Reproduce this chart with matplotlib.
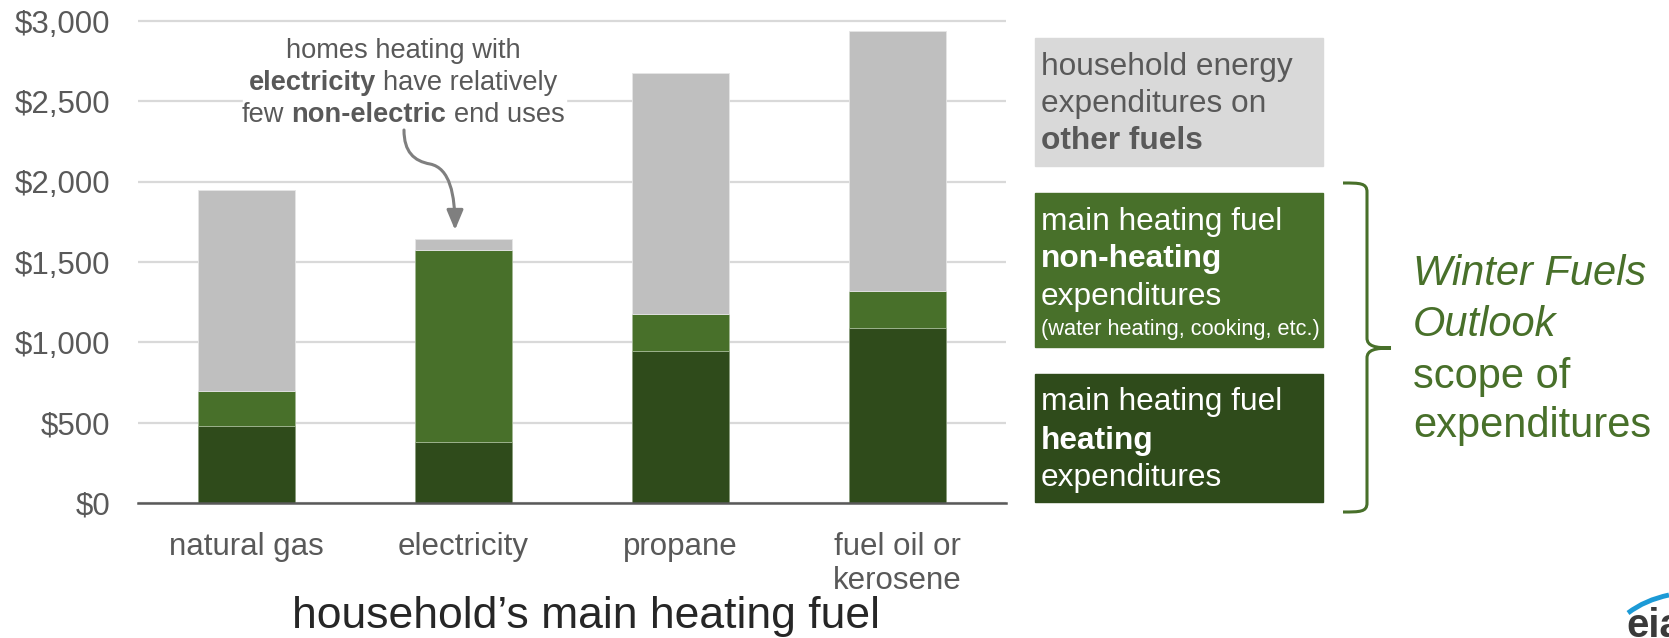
import matplotlib
matplotlib.use("Agg")
import matplotlib.pyplot as plt
from matplotlib.patches import Rectangle, FancyArrowPatch, PathPatch
from matplotlib.path import Path
import numpy as np

plt.rcParams['font.family'] = ['Liberation Sans', 'DejaVu Sans']

# household expenditures by main heating fuel, dollars
fuels = ["natural gas", "electricity", "propane", "fuel oil or\nkerosene"]
heating = [478, 378, 947, 1088]
non_heating = [219, 1194, 232, 234]
other_fuels = [1251, 71, 1496, 1618]

y_ticks = [0, 500, 1000, 1500, 2000, 2500, 3000]
y_labels = ["$0", "$500", "$1,000", "$1,500", "$2,000", "$2,500", "$3,000"]

dark_green = "#2f4b1b"
mid_green = "#48702a"
bar_gray = "#bfbfbf"
box_gray = "#d9d9d9"
txt_gray = "#595959"

W, H = 1669, 638
fig = plt.figure(figsize=(W / 100, H / 100), dpi=100)
renderer = fig.canvas.get_renderer()


def fx(px):
    return px / W


def fy(py):
    return 1 - py / H


ax = fig.add_axes([fx(138), fy(503), (1006 - 138) / W, (503 - 19.4) / H])

x = np.arange(len(fuels))
bw = 0.447
h = np.array(heating)
nh = np.array(non_heating)
ax.bar(x, h, bw, color=dark_green, edgecolor="#8a9c7c", lw=0.6, zorder=2)
ax.bar(x, nh, bw, bottom=h, color=mid_green, edgecolor="#a3b894", lw=0.6, zorder=2)
ax.bar(x, other_fuels, bw, bottom=h + nh, color=bar_gray, edgecolor="#e6e6e6", lw=0.6, zorder=2)

ax.set_xlim(-0.5, 3.5)
ax.set_ylim(0, 3010)
ax.set_yticks(y_ticks, y_labels)
ax.set_xticks(x, fuels)
ax.yaxis.grid(True, color="#d9d9d9", lw=1.6)
ax.set_axisbelow(True)
for s in ["left", "right", "top"]:
    ax.spines[s].set_visible(False)
ax.spines["bottom"].set_color(txt_gray)
ax.spines["bottom"].set_linewidth(1.8)
ax.spines["bottom"].set_zorder(3)
ax.tick_params(length=0, labelsize=22.5, labelcolor=txt_gray)
ax.tick_params(axis="y", pad=20)
ax.tick_params(axis="x", pad=21)
for lbl in ax.get_xticklabels():
    lbl.set_linespacing(1.18)

fig.text(fx(586), fy(628), "household\u2019s main heating fuel", fontsize=32,
         color="#262626", ha="center", va="baseline")


def text_width(s, size, weight="normal", style="normal"):
    t = fig.text(0, 0, s, fontsize=size, fontweight=weight, fontstyle=style)
    w = t.get_window_extent(renderer).width
    t.remove()
    return w


def rich_line(xp, yp, parts, size, color, center=False):
    # parts: (text, bold) pieces separated by a single space
    space = text_width("a a", size) - text_width("aa", size)
    widths = [text_width(s, size, "bold" if b else "normal") for s, b in parts]
    total = sum(widths) + space * (len(parts) - 1)
    x0 = xp - total / 2 if center else xp
    for (s, b), w in zip(parts, widths):
        fig.text(fx(x0), fy(yp), s, fontsize=size, color=color,
                 fontweight="bold" if b else "normal", ha="left", va="baseline")
        x0 += w + space


# note on the electricity bar
fig.add_artist(Rectangle((fx(243), fy(128)), (566 - 243) / W, (128 - 32) / H,
                         transform=fig.transFigure, color="white", zorder=1))
note = [
    [("homes heating with", False)],
    [("electricity", True), ("have relatively", False)],
    [("few", False), ("non-electric", True), ("end uses", False)],
]
for line, yb in zip(note, [58, 90, 122]):
    rich_line(403, yb, line, 19.6, txt_gray, center=True)

arrow_path = Path(
    [(fx(404), fy(130)), (fx(404), fy(152)), (fx(414), fy(161)), (fx(430), fy(164)),
     (fx(450), fy(168)), (fx(455), fy(195)), (fx(455), fy(230))],
    [Path.MOVETO, Path.CURVE4, Path.CURVE4, Path.CURVE4,
     Path.CURVE4, Path.CURVE4, Path.CURVE4])
fig.add_artist(FancyArrowPatch(path=arrow_path, transform=fig.transFigure,
                               arrowstyle="-|>,head_length=12,head_width=5",
                               color="#7f7f7f", lw=2.2, mutation_scale=1))

# legend boxes
boxes = [
    (38, 166, box_gray, txt_gray, [
        (75, [("household energy", False)], 22.8),
        (112, [("expenditures on", False)], 22.8),
        (149, [("other fuels", True)], 22.8)]),
    (193, 347, mid_green, "white", [
        (230, [("main heating fuel", False)], 22.8),
        (267, [("non-heating", True)], 22.8),
        (305, [("expenditures", False)], 22.8),
        (335, [("(water heating, cooking, etc.)", False)], 15.7)]),
    (374, 502, dark_green, "white", [
        (410, [("main heating fuel", False)], 22.8),
        (449, [("heating", True)], 22.8),
        (486, [("expenditures", False)], 22.8)]),
]
for top, bottom, fc, tc, lines in boxes:
    fig.add_artist(Rectangle((fx(1035), fy(bottom)), (1323 - 1035) / W, (bottom - top) / H,
                             transform=fig.transFigure, color=fc, zorder=1))
    for yb, parts, size in lines:
        rich_line(1041, yb, parts, size, tc)

# brace around the heating-fuel boxes
bx, tip = 1367, 1391
brace = Path(
    [(fx(1343), fy(183)), (fx(1360), fy(183)), (fx(bx), fy(183)), (fx(bx), fy(192)),
     (fx(bx), fy(338)),
     (fx(bx), fy(346)), (fx(1375), fy(348)), (fx(tip), fy(348)),
     (fx(1375), fy(348)), (fx(bx), fy(350)), (fx(bx), fy(358)),
     (fx(bx), fy(503)),
     (fx(bx), fy(512)), (fx(1360), fy(512)), (fx(1343), fy(512))],
    [Path.MOVETO, Path.CURVE4, Path.CURVE4, Path.CURVE4,
     Path.LINETO,
     Path.CURVE4, Path.CURVE4, Path.CURVE4,
     Path.CURVE4, Path.CURVE4, Path.CURVE4,
     Path.LINETO,
     Path.CURVE4, Path.CURVE4, Path.CURVE4])
fig.add_artist(PathPatch(brace, transform=fig.transFigure, fill=False,
                         edgecolor=mid_green, lw=2.2))

scope = [("Winter Fuels", "italic", 285), ("Outlook", "italic", 336),
         ("scope of", "normal", 388), ("expenditures", "normal", 437)]
for s, st, yb in scope:
    fig.text(fx(1413), fy(yb), s, fontsize=30, fontstyle=st, color=mid_green,
             ha="left", va="baseline")

# eia mark, cut by the right edge
fig.text(fx(1626), fy(637), "eia", fontsize=29, fontweight="bold", color="#3a3a3a",
         ha="left", va="baseline")
arc = Path([(fx(1628), fy(613)), (fx(1645), fy(600)), (fx(1669), fy(595))],
           [Path.MOVETO, Path.CURVE3, Path.CURVE3])
fig.add_artist(PathPatch(arc, transform=fig.transFigure, fill=False,
                         edgecolor="#1c9ad6", lw=3.5))

fig.savefig("out.png", dpi=100)
